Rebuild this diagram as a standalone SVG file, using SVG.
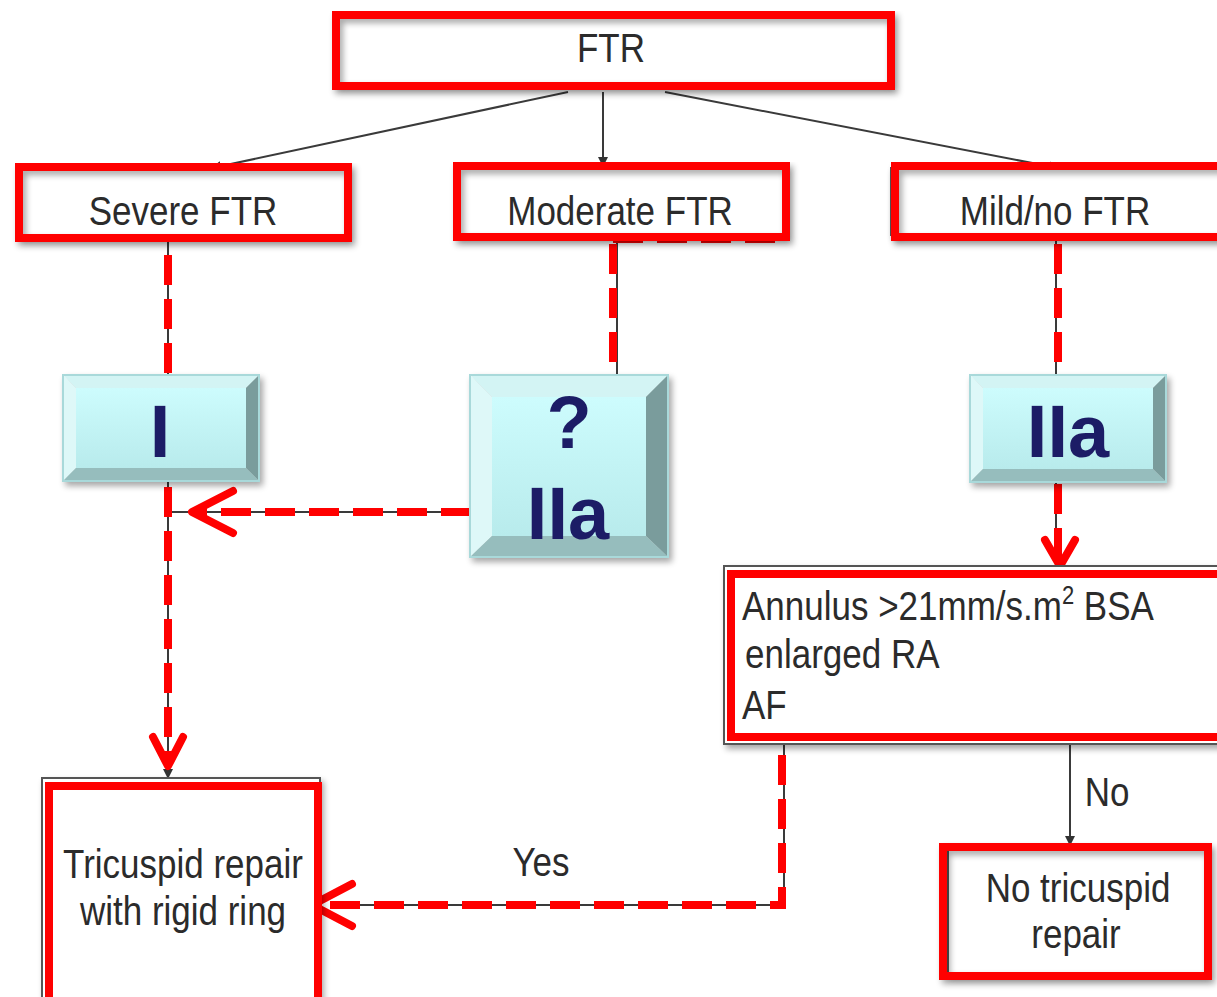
<svg xmlns="http://www.w3.org/2000/svg" width="1217" height="997" viewBox="0 0 1217 997">
<defs>
<filter id="sh" x="-10%" y="-10%" width="130%" height="140%"><feGaussianBlur in="SourceAlpha" stdDeviation="3"/><feOffset dx="3" dy="4"/><feComponentTransfer><feFuncA type="linear" slope="0.35"/></feComponentTransfer><feMerge><feMergeNode/><feMergeNode in="SourceGraphic"/></feMerge></filter>
<linearGradient id="face" x1="0" y1="0" x2="0" y2="1"><stop offset="0" stop-color="#CDFCFD"/><stop offset="1" stop-color="#B8EBEC"/></linearGradient>
<marker id="ab" viewBox="0 0 10 10" refX="9" refY="5" markerWidth="5" markerHeight="5" orient="auto"><path d="M0,0 L10,5 L0,10 z" fill="#333"/></marker>
<style>
.t{font-family:"Liberation Sans",Arial,sans-serif;font-size:35px;fill:#2b2b2b}
.c{text-anchor:middle}
.b{font-family:"Liberation Sans",Arial,sans-serif;font-weight:bold;font-size:74px;fill:#1F1F66;text-anchor:middle}
.gb{fill:#fff;stroke:#555;stroke-width:2}
.rb{fill:none;stroke:#FF0000;stroke-width:8}
.ln{fill:none;stroke:#3a3a3a;stroke-width:2}
.rd{fill:none;stroke:#FF0000;stroke-width:8;stroke-dasharray:30 14}
.ch{fill:none;stroke:#FF0000;stroke-width:8;stroke-linecap:round;stroke-linejoin:round}
.bt{fill:#D3F4F4}.bl{fill:#DEF8F8}.br{fill:#7A9C9C}.bb{fill:#96BDBD}
.bo{fill:none;stroke:#A9D9DA;stroke-width:2}
</style>
</defs>
<rect width="1217" height="997" fill="#fff"/>

<g id="connectors">
<line class="ln" x1="568" y1="92" x2="212" y2="168" marker-end="url(#ab)"/>
<line class="ln" x1="603" y1="92" x2="603" y2="166" marker-end="url(#ab)"/>
<line class="ln" x1="665" y1="92" x2="1058" y2="168" marker-end="url(#ab)"/>
<line class="ln" x1="168" y1="242" x2="168" y2="375"/>
<line class="ln" x1="168" y1="481" x2="168" y2="778" marker-end="url(#ab)"/>
<line class="ln" x1="168" y1="512" x2="471" y2="512"/>
<line class="ln" x1="617" y1="241" x2="617" y2="375"/>
<line class="ln" x1="1056" y1="241" x2="1056" y2="375"/>
<line class="ln" x1="1056" y1="482" x2="1056" y2="566"/>
<polyline class="ln" points="784,744 784,905 330,905"/>
<line class="ln" x1="1070" y1="744" x2="1070" y2="845" marker-end="url(#ab)"/>
<path class="rd" d="M168,255 V375"/>
<path class="rd" d="M168,487 V765"/>
<polyline class="ch" points="153,737 168,766 183,737"/>
<path class="rd" d="M471,512 H195"/>
<polyline class="ch" points="233,491 192,512 233,533"/>
<path class="rd" d="M613,244 V375"/>
<path class="rd" d="M613,239 H775"/>
<path class="rd" d="M1058,244 V375"/>
<path class="rd" d="M1058,484 V562"/>
<polyline class="ch" points="1045,540 1060,566 1075,540"/>
<path class="rd" d="M778,738 H908"/>
<path class="rd" d="M782,755 V905 H330"/>
<polyline class="ch" points="352,884 312,905 352,926"/>
<text class="t c" transform="translate(541,876) scale(1,1.15)">Yes</text>
<text class="t c" transform="translate(1107,806) scale(1,1.15)">No</text>
</g>

<g id="ftr">
<rect class="gb" x="338" y="17" width="551" height="67" filter="url(#sh)"/>
<rect class="rb" x="336" y="15" width="555" height="71" filter="url(#sh)"/>
<text class="t c" transform="translate(611,62) scale(1,1.15)">FTR</text>
</g>

<g id="severe">
<rect class="gb" x="21" y="169" width="325" height="67" filter="url(#sh)"/>
<rect class="rb" x="19" y="167" width="329" height="71" filter="url(#sh)"/>
<text class="t c" transform="translate(183,225) scale(1,1.15)">Severe FTR</text>
</g>

<g id="moderate">
<rect class="gb" x="459" y="168" width="325" height="67" filter="url(#sh)"/>
<rect class="rb" x="457" y="166" width="329" height="71" filter="url(#sh)"/>
<text class="t c" transform="translate(620,225) scale(1,1.15)">Moderate FTR</text>
</g>

<g id="mild">
<rect class="gb" x="891" y="168" width="330" height="67" filter="url(#sh)"/>
<rect class="rb" x="895" y="166" width="330" height="71" filter="url(#sh)"/>
<text class="t c" transform="translate(1055,225) scale(1,1.15)">Mild/no FTR</text>
</g>

<g id="class-I" filter="url(#sh)">
<polygon class="bt" points="63,375 259,375 246,388 76,388"/>
<polygon class="bl" points="63,375 76,388 76,468 63,481"/>
<polygon class="br" points="259,375 259,481 246,468 246,388"/>
<polygon class="bb" points="63,481 76,468 246,468 259,481"/>
<rect x="76" y="388" width="170" height="80" fill="url(#face)"/>
<rect class="bo" x="63" y="375" width="196" height="106"/>
<text class="b" x="160" y="457">I</text>
</g>

<g id="class-IIa-moderate" filter="url(#sh)">
<polygon class="bt" points="470,375 668,375 646,397 492,397"/>
<polygon class="bl" points="470,375 492,397 492,536 470,557"/>
<polygon class="br" points="668,375 668,557 646,536 646,397"/>
<polygon class="bb" points="470,557 492,536 646,536 668,557"/>
<rect x="492" y="397" width="154" height="139" fill="url(#face)"/>
<rect class="bo" x="470" y="375" width="198" height="182"/>
<text class="b" x="569" y="448">?</text>
<text class="b" x="568" y="539">IIa</text>
</g>

<g id="class-IIa-mild" filter="url(#sh)">
<polygon class="bt" points="970,375 1166,375 1153,388 983,388"/>
<polygon class="bl" points="970,375 983,388 983,469 970,482"/>
<polygon class="br" points="1166,375 1166,482 1153,469 1153,388"/>
<polygon class="bb" points="970,482 983,469 1153,469 1166,482"/>
<rect x="983" y="388" width="170" height="81" fill="url(#face)"/>
<rect class="bo" x="970" y="375" width="196" height="107"/>
<text class="b" x="1068" y="457">IIa</text>
</g>

<g id="annulus">
<rect class="gb" x="724" y="566" width="500" height="178" filter="url(#sh)"/>
<rect class="rb" x="731" y="574" width="490" height="163"/>
<text class="t" transform="translate(742,620) scale(1,1.15)">Annulus &gt;21mm/s.m<tspan font-size="22" dy="-14">2</tspan><tspan dy="14"> BSA</tspan></text>
<text class="t" transform="translate(745,668) scale(1,1.15)">enlarged RA</text>
<text class="t" transform="translate(742,719) scale(1,1.15)">AF</text>
</g>

<g id="tricuspid-repair">
<rect class="gb" x="42" y="778" width="278" height="230" filter="url(#sh)"/>
<rect class="rb" x="49" y="786" width="269" height="215"/>
<text class="t c" transform="translate(183,878) scale(1,1.15)">Tricuspid repair</text>
<text class="t c" transform="translate(183,925) scale(1,1.15)">with rigid ring</text>
</g>

<g id="no-repair">
<rect class="gb" x="948" y="847" width="257" height="127" filter="url(#sh)"/>
<rect class="rb" x="943" y="847" width="265" height="129" filter="url(#sh)"/>
<text class="t c" transform="translate(1078,902) scale(1,1.15)">No tricuspid</text>
<text class="t c" transform="translate(1076,948) scale(1,1.15)">repair</text>
</g>
</svg>
